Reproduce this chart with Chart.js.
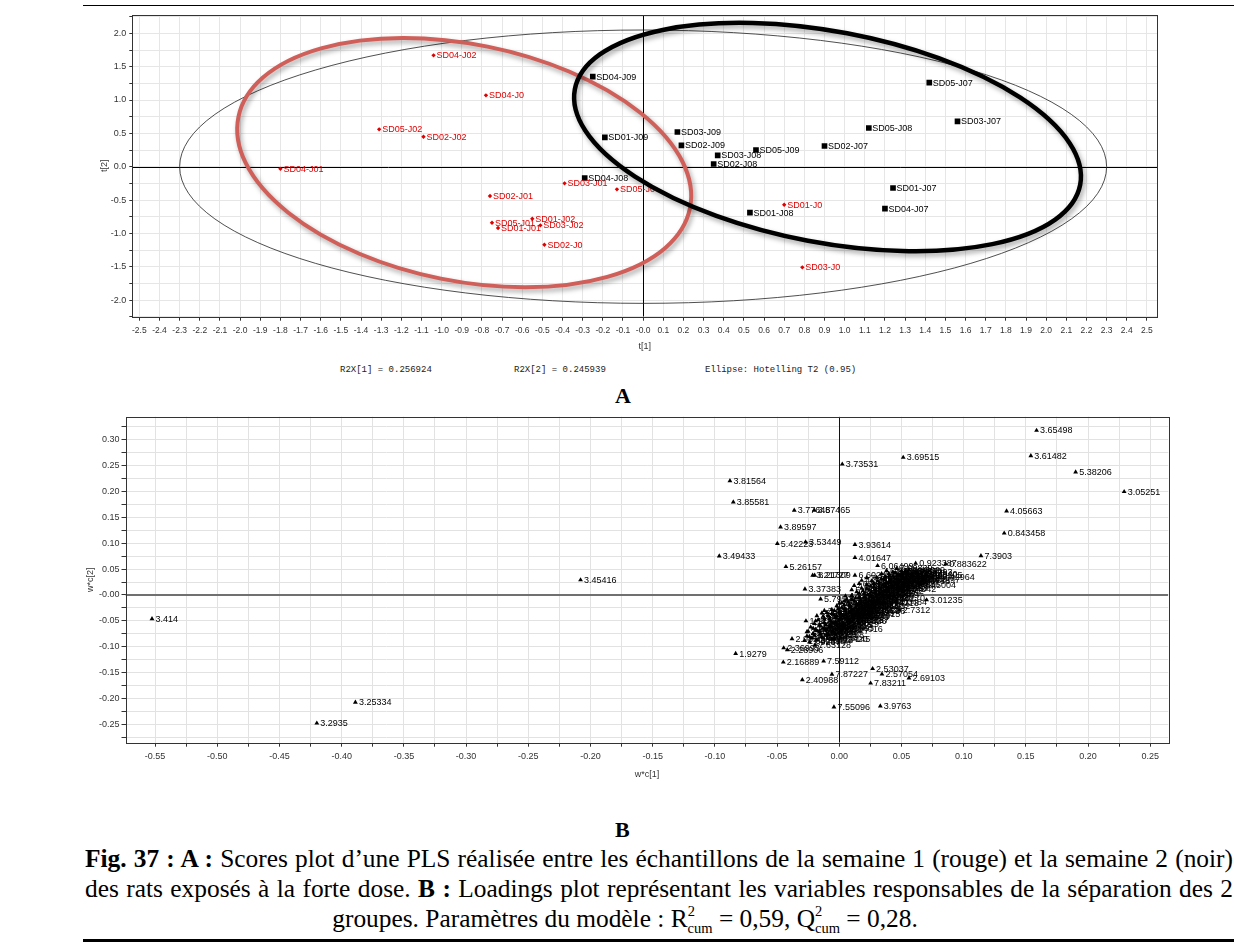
<!DOCTYPE html>
<html><head><meta charset="utf-8">
<script src="https://cdn.jsdelivr.net/npm/chart.js@4.4.1/dist/chart.umd.min.js"></script>
<style>
html,body{margin:0;padding:0;background:#fff;}
body{width:1234px;height:944px;overflow:hidden;position:relative;}
canvas{position:absolute;}
.t{position:absolute;white-space:nowrap;}
.mono{font-family:'Liberation Mono','DejaVu Sans Mono',monospace;font-size:9px;color:#222;}
.cap{position:absolute;left:85px;width:1148px;font-family:'Liberation Serif','Times New Roman',serif;font-size:25.4px;line-height:30px;color:#000;white-space:nowrap;}
.just{text-align:justify;text-align-last:justify;}
.cap sup{font-size:14.5px;vertical-align:11px;line-height:0;}
.cap sub{font-size:14.5px;vertical-align:-6px;line-height:0;margin-left:-7.3px;}
</style></head><body>
<div style="position:absolute;left:83px;top:5px;width:1151px;height:1px;background:#000"></div>
<canvas id="cA" width="1110" height="350" style="left:60px;top:10px"></canvas>
<div class="t mono" style="left:340px;top:365px">R2X[1] = 0.256924</div>
<div class="t mono" style="left:514px;top:365px">R2X[2] = 0.245939</div>
<div class="t mono" style="left:705px;top:365px">Ellipse: Hotelling T2 (0.95)</div>
<div class="t" style="left:615px;top:383px;font:bold 22px 'Liberation Serif',serif;">A</div>
<canvas id="cB" width="1120" height="385" style="left:60px;top:405px"></canvas>
<div class="t" style="left:615px;top:817px;font:bold 22px 'Liberation Serif',serif;">B</div>
<div class="cap just" style="top:843px"><b>Fig. 37 : A :</b> Scores plot d’une PLS réalisée entre les échantillons de la semaine 1 (rouge) et la semaine 2 (noir)</div>
<div class="cap just" style="top:873px">des rats exposés à la forte dose. <b>B :</b> Loadings plot représentant les variables responsables de la séparation des 2</div>
<div class="cap" style="top:903px;left:30px;width:1190px;text-align:center">groupes. Paramètres du modèle : R<sup>2</sup><sub>cum</sub> = 0,59, Q<sup>2</sup><sub>cum</sub> = 0,28.</div>
<div style="position:absolute;left:83px;top:939px;width:1151px;height:3px;background:#000"></div>
<script>
// ================= Chart A : scores plot =================
const week1Labels = ['SD04-J02','SD04-J0','SD05-J02','SD02-J02','SD04-J01','SD02-J01','SD03-J01','SD05-J0','SD05-J01','SD01-J01','SD01-J02','SD03-J02','SD02-J0','SD01-J0','SD03-J0'];
const week1X = [-1.04,-0.78,-1.31,-1.09,-1.80,-0.76,-0.39,-0.13,-0.75,-0.72,-0.55,-0.51,-0.49,0.70,0.79];
const week1Y = [1.67,1.07,0.56,0.45,-0.03,-0.44,-0.25,-0.34,-0.84,-0.92,-0.78,-0.88,-1.17,-0.57,-1.51];

const week2Labels = ['SD04-J09','SD01-J09','SD04-J08','SD05-J07','SD03-J07','SD05-J08','SD03-J09','SD02-J09','SD02-J07','SD05-J09','SD03-J08','SD02-J08','SD01-J07','SD04-J07','SD01-J08'];
const week2X = [-0.25,-0.19,-0.29,1.42,1.56,1.12,0.17,0.19,0.90,0.56,0.37,0.35,1.24,1.20,0.53];
const week2Y = [1.35,0.44,-0.17,1.26,0.68,0.58,0.52,0.32,0.31,0.25,0.17,0.04,-0.32,-0.63,-0.69];

const xTicksA = [-2.5,-2.4,-2.3,-2.2,-2.1,-2.0,-1.9,-1.8,-1.7,-1.6,-1.5,-1.4,-1.3,-1.2,-1.1,-1.0,-0.9,-0.8,-0.7,-0.6,-0.5,-0.4,-0.3,-0.2,-0.1,0,0.1,0.2,0.3,0.4,0.5,0.6,0.7,0.8,0.9,1.0,1.1,1.2,1.3,1.4,1.5,1.6,1.7,1.8,1.9,2.0,2.1,2.2,2.3,2.4,2.5];
const xTickLabelsA = ['-2.5','-2.4','-2.3','-2.2','-2.1','-2.0','-1.9','-1.8','-1.7','-1.6','-1.5','-1.4','-1.3','-1.2','-1.1','-1.0','-0.9','-0.8','-0.7','-0.6','-0.5','-0.4','-0.3','-0.2','-0.1','-0.0','0.1','0.2','0.3','0.4','0.5','0.6','0.7','0.8','0.9','1.0','1.1','1.2','1.3','1.4','1.5','1.6','1.7','1.8','1.9','2.0','2.1','2.2','2.3','2.4','2.5'];
const yTicksA = [-2.25,-2.0,-1.75,-1.5,-1.25,-1.0,-0.75,-0.5,-0.25,0,0.25,0.5,0.75,1.0,1.25,1.5,1.75,2.0,2.25];
const yTickLabelsA = ['','-2.0','','-1.5','','-1.0','','-0.5','','0.0','','0.5','','1.0','','1.5','','2.0',''];

// Hotelling T2 (0.95) ellipse and the two hand-drawn group ellipses (data units)
const hotelling = {cx:0, cy:0, rx:2.30, ry:2.05};
const groupEllipses = [
  {cx:-0.888, cy:0.061, rx:1.143, ry:1.775, rot:11.4, color:'#cf5f58', width:4},
  {cx:0.915, cy:0.445, rx:1.276, ry:1.583, rot:10.7, color:'#000000', width:4.5}
];

// ================= Chart B : loadings plot =================
const loadLabels = ['3.414','3.25334','3.2935','3.45416','3.65498','3.61482','5.38206','3.05251','3.73531','3.69515',
 '3.81564','3.85581','3.77648','3.57465','3.89597','5.42223','3.53449','3.93614','3.49433','4.01647',
 '5.26157','3.21727','8.21309','6.60241','3.37383','4.05663','0.843458','7.3903','0.923387','0.883622',
 '6.06499','7.42964','2.45004','3.01235','2.0484','2.7312','1.9279','2.16889','7.59112','2.40988',
 '7.87227','2.53037','2.57054','2.69103','7.83211','7.55096','3.9763','2.98202','3.67145','2.36993',
 '2.28906','7.63128','2.28939','1.33527','1.17321','5.7952'];
const loadX = [-0.5525,-0.389,-0.420,-0.208,0.1586,0.154,0.190,0.229,0.0024,0.0514,
 -0.0879,-0.0852,-0.0362,-0.0201,-0.0472,-0.0498,-0.0271,0.0126,-0.0965,0.0126,
 -0.0429,-0.0214,-0.0198,0.0126,-0.0276,0.1345,0.1326,0.1139,0.0614,0.0855,
 0.0308,0.080,0.0648,0.0702,0.0455,0.0482,-0.0833,-0.045,-0.0126,-0.0297,
 -0.0059,0.0268,0.0343,0.056,0.0252,-0.0043,0.033,-0.038,-0.004,-0.0447,
 -0.0418,-0.0196,0.021,0.011,-0.0268,-0.015];
const loadY = [-0.046,-0.207,-0.247,0.029,0.317,0.268,0.237,0.199,0.252,0.265,
 0.220,0.179,0.163,0.163,0.131,0.099,0.102,0.097,0.075,0.072,
 0.0545,0.038,0.038,0.038,0.0115,0.1615,0.119,0.0756,0.061,0.0596,
 0.0564,0.034,0.020,-0.0096,-0.0128,-0.0288,-0.1128,-0.1295,-0.1276,-0.1635,
 -0.153,-0.142,-0.1526,-0.160,-0.170,-0.216,-0.214,-0.0846,-0.0846,-0.102,
 -0.1058,-0.097,-0.029,-0.048,-0.050,-0.008];

// dense central cluster (values estimated from the black mass in the picture)
const clusterX = [-0.028,-0.026,-0.025,-0.024,-0.023,-0.022,-0.021,-0.020,-0.019,-0.018,
 -0.017,-0.016,-0.015,-0.014,-0.013,-0.012,-0.011,-0.010,-0.009,-0.008,
 -0.007,-0.006,-0.005,-0.004,-0.003,-0.002,-0.001,0.000,0.001,0.002,
 0.003,0.004,0.005,0.006,0.007,0.008,0.009,0.010,0.011,0.012,
 0.013,0.014,0.015,0.016,0.017,0.018,0.019,0.020,0.021,0.022,
 0.023,0.024,0.025,0.026,0.027,0.028,0.029,0.030,0.031,0.032,
 0.033,0.034,0.035,0.036,0.037,0.038,0.039,0.040,0.041,0.042,
 0.043,0.044,0.045,0.046,0.047,0.048,0.049,0.050,0.051,0.052,
 0.054,0.055,0.056,0.058,0.060,0.062,0.064,0.066,0.068,0.070,
 -0.002,0.004,0.009,0.015,0.020,0.024,0.006,-0.006,0.012,0.018,
 -0.012,-0.018,0.028,0.035,0.040,
 -0.020,-0.018,-0.016,-0.015,-0.013,-0.012,-0.011,-0.010,-0.009,-0.008,
 -0.007,-0.006,-0.005,-0.004,-0.003,-0.002,-0.001,0.000,0.001,0.002,
 0.003,0.004,0.005,0.006,0.007,0.008,0.009,0.010,0.011,0.012,
 0.013,0.014,0.015,0.016,0.017,0.018,0.019,0.020,0.021,0.022,
 0.023,0.024,0.025,0.026,0.027,0.028,0.029,0.030,0.031,0.032,
 0.033,0.034,0.035,0.036,0.037,0.038,0.039,0.040,0.041,0.042,
 0.043,0.044,0.045,0.046,0.047,0.048,0.049,0.050,0.052,0.053,
 -0.019,-0.014,-0.021,-0.024,-0.026,0.000,0.005,0.010,0.016,0.022];
const clusterY = [-0.088,-0.079,-0.070,-0.091,-0.062,-0.083,-0.074,-0.055,-0.066,-0.087,
 -0.048,-0.071,-0.060,-0.081,-0.041,-0.053,-0.068,-0.034,-0.077,-0.046,
 -0.059,-0.028,-0.070,-0.039,-0.052,-0.021,-0.063,-0.033,-0.045,-0.015,
 -0.056,-0.026,-0.038,-0.008,-0.049,-0.019,-0.031,-0.001,-0.042,-0.012,
 -0.024,0.006,-0.035,-0.005,-0.017,0.013,-0.028,0.002,-0.010,0.020,
 -0.021,0.009,-0.003,0.027,-0.014,0.016,0.004,0.034,-0.007,0.023,
 0.011,0.041,0.000,0.030,0.018,0.047,0.007,0.037,0.025,0.014,
 0.044,0.032,0.021,0.051,0.039,0.028,0.012,0.046,0.035,0.022,
 0.042,0.030,0.049,0.037,0.026,0.044,0.033,0.041,0.029,0.038,
 -0.040,-0.012,-0.050,-0.020,-0.037,-0.030,-0.066,-0.085,0.018,0.028,
 -0.030,-0.040,-0.022,-0.015,-0.005,
 -0.078,-0.069,-0.058,-0.075,-0.064,-0.047,-0.057,-0.066,-0.040,-0.061,
 -0.050,-0.036,-0.054,-0.030,-0.043,-0.057,-0.027,-0.048,-0.036,-0.024,
 -0.041,-0.019,-0.030,-0.045,-0.014,-0.034,-0.022,-0.009,-0.028,-0.040,
 -0.006,-0.018,-0.029,0.003,-0.010,-0.022,0.008,-0.004,-0.018,0.012,
 0.000,-0.011,0.017,0.005,-0.006,0.022,0.010,-0.002,0.027,0.014,
 0.002,0.031,0.019,0.007,0.035,0.024,0.013,0.041,0.029,0.020,
 0.036,0.025,0.043,0.031,0.018,0.038,0.027,0.040,0.032,0.047,
 -0.050,-0.035,-0.064,-0.080,-0.071,-0.016,-0.002,0.010,0.022,0.033];
const clusterLabels = ['1.33281','1.48102','2.05617','1.92374','2.14925','1.05233','2.33844','2.45917','1.19360','2.60012',
 '2.70119','3.03526','2.12898','1.71455','3.15618','2.92087','2.50061','3.23591','1.27298','3.26798',
 '2.81172','3.40839','2.36977','3.57024','2.65151','3.62677','2.21003','3.68518','3.70538','3.82561',
 '2.09029','3.88592','3.92617','4.12705','2.52125','4.05659','3.96640','4.16719','2.75185','4.23740',
 '3.33390','4.28811','3.46436','4.35802','3.75560','4.47895','3.09561','4.60856','3.52458','4.66933',
 '3.13546','5.18235','3.90606','5.22253','3.29341','5.30299','4.01653','5.46257','3.51443','5.58282',
 '4.09687','6.00450','3.64509','6.12514','4.19728','6.52658','3.78542','6.68721','4.43839','4.62853',
 '6.84779','4.94945','5.05994','7.00839','5.34324','5.66305','3.84542','7.12887','5.74341','6.20536',
 '7.27937','6.36625','7.43029','6.44600','6.76738','7.58993','6.92807','7.74040','7.04897','7.90105',
 '3.00179','4.31785','2.86126','4.53882','3.36415','3.19538','2.24016','1.63420','4.72944','4.83898',
 '3.49412','3.01254','4.91932','5.14213','5.38270',
 '1.25012','1.40133','2.08042','1.87336','2.19008','1.10195','2.30847','2.48121','1.22395','2.62931',
 '2.72455','3.05982','2.16018','1.69381','3.17644','2.94113','2.55081','3.24617','1.31305','3.28803',
 '2.84154','3.42834','2.39991','3.55029','2.67162','3.60663','2.26025','3.66495','3.71525','3.80549',
 '2.11048','3.87563','3.94631','4.10688','2.54103','4.07671','3.98654','4.14702','2.77201','4.25741',
 '3.35402','4.30819','3.47437','4.37805','3.74553','4.49911','3.11566','4.62867','3.54469','4.68942',
 '3.15557','5.20241','3.91607','5.24260','3.31355','5.32304','4.03665','5.44252','3.52460','5.60290',
 '4.11690','6.02455','3.63502','6.14521','4.21734','6.54665','3.79547','6.70724','4.45845','4.64860',
 '1.46109','2.03597','1.08213','1.29291','2.23014','3.72547','4.33798','5.16227','6.40620','7.22920'];

const xTicksB = [-0.55,-0.525,-0.5,-0.475,-0.45,-0.425,-0.4,-0.375,-0.35,-0.325,-0.3,-0.275,-0.25,-0.225,-0.2,-0.175,-0.15,-0.125,-0.1,-0.075,-0.05,-0.025,0,0.025,0.05,0.075,0.1,0.125,0.15,0.175,0.2,0.225,0.25];
const xTickLabelsB = ['-0.55','','-0.50','','-0.45','','-0.40','','-0.35','','-0.30','','-0.25','','-0.20','','-0.15','','-0.10','','-0.05','','0.00','','0.05','','0.10','','0.15','','0.20','','0.25'];
const yTicksB = [-0.275,-0.25,-0.225,-0.2,-0.175,-0.15,-0.125,-0.1,-0.075,-0.05,-0.025,0,0.025,0.05,0.075,0.1,0.125,0.15,0.175,0.2,0.225,0.25,0.275,0.3,0.325];
const yTickLabelsB = ['','-0.25','','-0.20','','-0.15','','-0.10','','-0.05','','-0.00','','0.05','','0.10','','0.15','','0.20','','0.25','','0.30',''];

// ================= helpers / plugins =================
const SANS = "'Liberation Sans', Arial, sans-serif";
function pts(xs, ys){ return xs.map((x,i)=>({x:x, y:ys[i]})); }
function labelFor(vals, labels){
  return function(v){ for(let i=0;i<vals.length;i++){ if(Math.abs(vals[i]-v)<1e-9) return labels[i]; } return ''; };
}
function setTicks(vals){ return function(s){ s.ticks = vals.map(v=>({value:v})); }; }

const framePlugin = {
  id:'frame',
  beforeDatasetsDraw(chart){
    const {ctx, chartArea:a, scales} = chart;
    const opt = chart.options.plugins.frame || {};
    ctx.save();
    ctx.beginPath(); ctx.rect(a.left, a.top, a.right-a.left, a.bottom-a.top); ctx.clip();
    const x0 = Math.round(scales.x.getPixelForValue(0));
    const y0 = scales.y.getPixelForValue(0);
    ctx.strokeStyle = opt.vZeroColor || '#000'; ctx.lineWidth = 1;
    ctx.beginPath(); ctx.moveTo(x0+0.5, a.top); ctx.lineTo(x0+0.5, a.bottom); ctx.stroke();
    ctx.strokeStyle = opt.hZeroColor || '#000'; ctx.lineWidth = opt.hZeroWidth || 1;
    const yy = (opt.hZeroWidth||1) % 2 ? Math.round(y0)+0.5 : Math.round(y0);
    ctx.beginPath(); ctx.moveTo(a.left, yy); ctx.lineTo(a.right, yy); ctx.stroke();
    if (opt.hotelling){
      const h = opt.hotelling;
      const cx = scales.x.getPixelForValue(h.cx), cy = scales.y.getPixelForValue(h.cy);
      const rx = Math.abs(scales.x.getPixelForValue(h.cx+h.rx)-cx);
      const ry = Math.abs(scales.y.getPixelForValue(h.cy+h.ry)-cy);
      ctx.beginPath(); ctx.ellipse(cx, cy, rx, ry, 0, 0, Math.PI*2);
      ctx.strokeStyle='#222'; ctx.lineWidth=0.8; ctx.stroke();
    }
    ctx.restore();
    ctx.save();
    ctx.strokeStyle='#333'; ctx.lineWidth=1;
    ctx.strokeRect(Math.round(a.left)+0.5, Math.round(a.top)+0.5, Math.round(a.right-a.left), Math.round(a.bottom-a.top));
    ctx.restore();
  }
};
const labelPlugin = {
  id:'ptlabels',
  afterDatasetsDraw(chart){
    const ctx = chart.ctx;
    ctx.save();
    chart.data.datasets.forEach((ds, di)=>{
      if (!ds.ptLabels) return;
      const meta = chart.getDatasetMeta(di);
      ctx.font = ds.labelFont; ctx.fillStyle = ds.labelColor;
      ctx.textBaseline='middle'; ctx.textAlign='left';
      meta.data.forEach((el,i)=>{ ctx.fillText(ds.ptLabels[i], el.x + ds.labelDx, el.y + 0.5); });
    });
    ctx.restore();
  }
};
const groupPlugin = {
  id:'groups',
  afterDraw(chart){
    const opt = chart.options.plugins.groups;
    if (!opt || !opt.list) return;
    const {ctx, scales} = chart;
    const px = Math.abs(scales.x.getPixelForValue(1)-scales.x.getPixelForValue(0));
    const py = Math.abs(scales.y.getPixelForValue(1)-scales.y.getPixelForValue(0));
    opt.list.forEach(e=>{
      const cx = scales.x.getPixelForValue(e.cx), cy = scales.y.getPixelForValue(e.cy);
      ctx.save();
      ctx.shadowColor='rgba(0,0,0,0.35)'; ctx.shadowBlur=5; ctx.shadowOffsetX=2; ctx.shadowOffsetY=3;
      ctx.beginPath(); ctx.ellipse(cx, cy, e.rx*px, e.ry*py, e.rot*Math.PI/180, 0, Math.PI*2);
      ctx.strokeStyle=e.color; ctx.lineWidth=e.width; ctx.stroke();
      ctx.restore();
    });
  }
};

// ================= Chart A =================
new Chart(document.getElementById('cA'), {
  type:'scatter',
  data:{datasets:[
    {data:pts(week1X, week1Y), pointStyle:'rectRot', radius:2.2, backgroundColor:'#e00000', borderColor:'#e00000', borderWidth:0,
     ptLabels:week1Labels, labelColor:'#e00000', labelFont:'9px '+SANS, labelDx:3},
    {data:pts(week2X, week2Y), pointStyle:'rect', radius:4, backgroundColor:'#000', borderColor:'#000', borderWidth:0,
     ptLabels:week2Labels, labelColor:'#000', labelFont:'9px '+SANS, labelDx:3.5}
  ]},
  options:{
    responsive:false, animation:false, devicePixelRatio:1,
    layout:{padding:{top:5,right:13,left:0,bottom:0}},
    plugins:{legend:{display:false}, tooltip:{enabled:false},
      frame:{hotelling:hotelling, vZeroColor:'#000', hZeroColor:'#000', hZeroWidth:1}, groups:{list:groupEllipses}},
    scales:{
      x:{type:'linear', min:-2.535, max:2.55,
        afterBuildTicks:setTicks(xTicksA),
        afterFit:s=>{s.height=43.3; s.paddingLeft=0; s.paddingRight=0;},
        ticks:{autoSkip:false, maxRotation:0, minRotation:0, padding:5, color:'#333', font:{family:SANS,size:8.5},
          callback:labelFor(xTicksA, xTickLabelsA)},
        grid:{color:'#e6e6e6', lineWidth:1, tickLength:4, tickColor:'#333'},
        border:{display:false},
        title:{display:true, text:'t[1]', color:'#333', font:{family:SANS,size:9}, padding:{top:0,bottom:7.6}}
      },
      y:{type:'linear', min:-2.25, max:2.275,
        afterBuildTicks:setTicks(yTicksA),
        afterFit:s=>{s.width=72.3; s.paddingTop=0; s.paddingBottom=0;},
        ticks:{autoSkip:false, padding:3, color:'#333', font:{family:SANS,size:9},
          callback:labelFor(yTicksA, yTickLabelsA)},
        grid:{color:'#e6e6e6', lineWidth:1, tickLength:3, tickColor:'#333'},
        border:{display:false},
        title:{display:true, text:'t[2]', color:'#333', font:{family:SANS,size:9}, padding:{top:39.6,bottom:0}}
      }
    }
  },
  plugins:[framePlugin, labelPlugin, groupPlugin]
});

// ================= Chart B =================
new Chart(document.getElementById('cB'), {
  type:'scatter',
  data:{datasets:[
    {data:pts(clusterX, clusterY), pointStyle:'triangle', radius:2.8, backgroundColor:'#000', borderColor:'#000', borderWidth:0,
     ptLabels:clusterLabels, labelColor:'#000', labelFont:'9px '+SANS, labelDx:3.5},
    {data:pts(loadX, loadY), pointStyle:'triangle', radius:2.8, backgroundColor:'#000', borderColor:'#000', borderWidth:0,
     ptLabels:loadLabels, labelColor:'#000', labelFont:'9px '+SANS, labelDx:3.5}
  ]},
  options:{
    responsive:false, animation:false, devicePixelRatio:1,
    layout:{padding:{top:11.7,right:11.7,left:0,bottom:0}},
    plugins:{legend:{display:false}, tooltip:{enabled:false}, frame:{vZeroColor:'#111', hZeroColor:'#707070', hZeroWidth:2}},
    scales:{
      x:{type:'linear', min:-0.5738, max:0.2645,
        afterBuildTicks:setTicks(xTicksB),
        afterFit:s=>{s.height=47.3; s.paddingLeft=0; s.paddingRight=0;},
        ticks:{autoSkip:false, maxRotation:0, minRotation:0, padding:4, color:'#333', font:{family:SANS,size:9},
          callback:labelFor(xTicksB, xTickLabelsB)},
        grid:{color:'#e2e2e2', lineWidth:1, tickLength:4, tickColor:'#333'},
        border:{display:false},
        title:{display:true, text:'w*c[1]', color:'#333', font:{family:SANS,size:9}, padding:{top:0,bottom:9.6}}
      },
      y:{type:'linear', min:-0.2846, max:0.3435,
        afterBuildTicks:setTicks(yTicksB),
        afterFit:s=>{s.width=65.5; s.paddingTop=0; s.paddingBottom=0;},
        ticks:{autoSkip:false, padding:2, color:'#333', font:{family:SANS,size:9},
          callback:labelFor(yTicksB, yTickLabelsB)},
        grid:{color:'#e2e2e2', lineWidth:1, tickLength:4, tickColor:'#333'},
        border:{display:false},
        title:{display:true, text:'w*c[2]', color:'#333', font:{family:SANS,size:9}, padding:{top:25.6,bottom:0}}
      }
    }
  },
  plugins:[framePlugin, labelPlugin]
});
</script>
</body></html>
